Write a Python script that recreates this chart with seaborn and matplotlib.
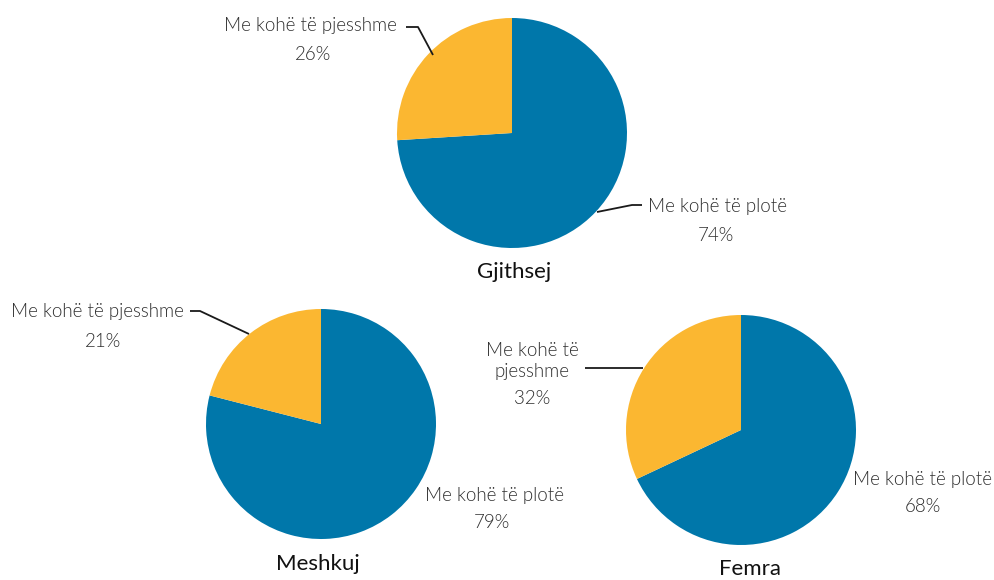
import matplotlib
matplotlib.use("Agg")
import matplotlib.pyplot as plt
import seaborn as sns

# ---- data ----
groups = ["Gjithsej", "Meshkuj", "Femra"]
categories = ["Me kohë të plotë", "Me kohë të pjesshme"]
full_time = [74, 79, 68]
part_time = [26, 21, 32]

sns.set_theme(style="white")
plt.rcParams["font.family"] = ["Lato", "DejaVu Sans"]

W, H = 995, 580
colors = ["#0077AA", "#FBB731"]
text_color = "#2e2e2e"

fig = plt.figure(figsize=(W / 100, H / 100), dpi=100)
ax = fig.add_axes([0, 0, 1, 1])

def Y(py):
    return H - py

# layout (pixel coordinates in the picture)
layout = {
    "Gjithsej": dict(center=(512, 133), r=115, title=(514, 272),
                     full=dict(txt=(648, 206), pct=(716, 235), ha="left",
                               line=[(597, 212), (632, 205), (642, 205)]),
                     part=dict(txt=(397, 25), pct=(313, 54), ha="right",
                               line=[(406, 27), (418, 27), (433, 55)])),
    "Meshkuj": dict(center=(321, 424), r=115, title=(318, 564),
                    full=dict(txt=(425, 495), pct=(492, 523), ha="left", line=None),
                    part=dict(txt=(184, 311), pct=(103, 341), ha="right",
                              line=[(190, 311), (200, 311), (249, 334)])),
    "Femra": dict(center=(741, 430), r=115, title=(750, 569),
                  full=dict(txt=(853, 480), pct=(923, 507), ha="left", line=None),
                  part=dict(txt=(532, 361), pct=(532, 398), ha="center",
                            line=[(585, 368), (643, 368)])),
}

for g, ft, pt in zip(groups, full_time, part_time):
    L = layout[g]
    cx, cy = L["center"]
    ax.pie([ft, pt], colors=colors, startangle=90, counterclock=False,
           center=(cx, Y(cy)), radius=L["r"],
           wedgeprops=dict(linewidth=0))
    # title
    tx, ty = L["title"]
    ax.text(tx, Y(ty), g, ha="center", va="center", fontsize=16,
            color="#111111")
    for key, val, cat in (("full", ft, categories[0]), ("part", pt, categories[1])):
        d = L[key]
        name = cat
        if g == "Femra" and key == "part":
            name = "Me kohë të\npjesshme"
        x, y = d["txt"]
        ax.text(x, Y(y), name, ha=d["ha"], va="center", fontsize=13.5,
                fontweight=300, color=text_color, linespacing=1.25)
        px, py = d["pct"]
        ax.text(px, Y(py), f"{val}%", ha="center", va="center", fontsize=13.5,
                fontweight=300, color=text_color)
        if d["line"]:
            xs = [p[0] for p in d["line"]]
            ys = [Y(p[1]) for p in d["line"]]
            ax.plot(xs, ys, color="#1a1a1a", linewidth=1.3, solid_capstyle="butt")

ax.set_xlim(0, W)
ax.set_ylim(0, H)
ax.set_aspect("equal")
ax.axis("off")

fig.savefig("out.png", dpi=100, facecolor="white")
